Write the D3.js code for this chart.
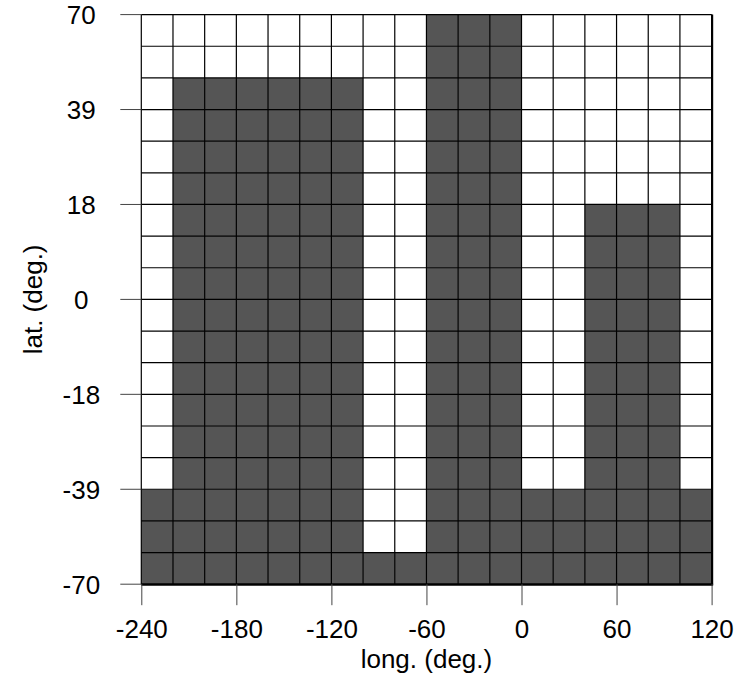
<!DOCTYPE html>
<html>
<head>
<meta charset="utf-8">
<script src="https://cdn.jsdelivr.net/npm/d3@7"></script>
<style>
  body { margin: 0; background: #fff; }
  text { font-family: "Liberation Sans", Arial, sans-serif; }
</style>
</head>
<body>
<div id="chart"></div>
<script>
// longitude bin starts (20 deg wide) and the latitude each filled column reaches
var lonStarts = [-240, -220, -200, -180, -160, -140, -120, -100, -80, -60, -40, -20, 0, 20, 40, 60, 80, 100];
var topLat = [-39, 47, 47, 47, 47, 47, 47, -57, -57, 70, 70, 70, -39, -39, 18, 18, 18, -39];
var xTicks = [-240, -180, -120, -60, 0, 60, 120];
var yTickLabels = [-70, -39, -18, 0, 18, 39, 70];
var nRows = 18;
var latMax = 70;

var width = 737, height = 681;
var plotLeft = 141.3, plotRight = 711.6, plotTop = 14.6, plotBottom = 584.2;
var fontSize = 26;
var rad = Math.PI / 180;

var svg = d3.select("#chart").append("svg")
    .attr("width", width)
    .attr("height", height);

var x = d3.scaleLinear().domain([-240, 120]).range([plotLeft, plotRight]);
// equal-area latitude axis: linear in sin(lat)
var sMax = Math.sin(latMax * rad);
var yS = d3.scaleLinear().domain([-sMax, sMax]).range([plotBottom, plotTop]);
var y = function(lat) { return yS(Math.sin(lat * rad)); };

// row edges, equal steps in sin(lat)
var rowEdges = d3.range(nRows + 1).map(function(i) {
    return Math.asin(-sMax + i * 2 * sMax / nRows) / rad;
});

var cells = [];
lonStarts.forEach(function(lon, c) {
    for (var r = 0; r < nRows; r++) {
        var lo = rowEdges[r], hi = rowEdges[r + 1];
        var mid = Math.asin((Math.sin(lo * rad) + Math.sin(hi * rad)) / 2) / rad;
        cells.push({lon: lon, lo: lo, hi: hi, filled: mid < topLat[c]});
    }
});

svg.append("g").selectAll("rect")
    .data(cells)
    .enter().append("rect")
    .attr("x", function(d) { return x(d.lon); })
    .attr("y", function(d) { return y(d.hi); })
    .attr("width", function(d) { return x(d.lon + 20) - x(d.lon); })
    .attr("height", function(d) { return y(d.lo) - y(d.hi); })
    .attr("fill", function(d) { return d.filled ? "#555555" : "#ffffff"; });

// grid lines
var grid = svg.append("g").attr("stroke", "#000").attr("stroke-width", 1.2);
lonStarts.concat([120]).forEach(function(lon) {
    grid.append("line")
        .attr("x1", x(lon)).attr("x2", x(lon))
        .attr("y1", plotTop).attr("y2", plotBottom);
});
rowEdges.forEach(function(lat) {
    grid.append("line")
        .attr("x1", plotLeft).attr("x2", plotRight)
        .attr("y1", y(lat)).attr("y2", y(lat));
});

// heavier right and bottom frame
svg.append("line")
    .attr("x1", plotRight + 0.5).attr("x2", plotRight + 0.5)
    .attr("y1", plotTop).attr("y2", plotBottom + 1)
    .attr("stroke", "#000").attr("stroke-width", 2.2);
svg.append("line")
    .attr("x1", plotLeft).attr("x2", plotRight + 1.5)
    .attr("y1", plotBottom + 0.5).attr("y2", plotBottom + 0.5)
    .attr("stroke", "#000").attr("stroke-width", 2.2);

// x axis
var xAxis = svg.append("g")
    .attr("transform", "translate(0," + plotBottom + ")")
    .call(d3.axisBottom(x).tickValues(xTicks).tickSize(21).tickFormat(function(d) { return String(d); }));
xAxis.select(".domain").remove();
xAxis.selectAll("line").attr("stroke", "#444");
xAxis.selectAll("text")
    .attr("y", 54).attr("dy", 0)
    .attr("font-size", fontSize).attr("fill", "#000")
    .style("font-family", "'Liberation Sans', Arial, sans-serif");

// y axis: ticks sit on every third row edge
var yTickPos = rowEdges.filter(function(d, i) { return i % 3 === 0; });
var yAxis = svg.append("g").attr("transform", "translate(" + plotLeft + ",0)");
yAxis.selectAll("line")
    .data(yTickPos)
    .enter().append("line")
    .attr("x1", -21).attr("x2", 0)
    .attr("y1", function(d) { return y(d); })
    .attr("y2", function(d) { return y(d); })
    .attr("stroke", "#444");
yAxis.selectAll("text")
    .data(yTickPos)
    .enter().append("text")
    .attr("x", -60)
    .attr("y", function(d) { return y(d); })
    .attr("dy", "0.36em")
    .attr("text-anchor", "middle")
    .attr("font-size", fontSize)
    .text(function(d, i) { return yTickLabels[i]; });

// axis titles
svg.append("text")
    .attr("x", (plotLeft + plotRight) / 2)
    .attr("y", 668)
    .attr("text-anchor", "middle")
    .attr("font-size", fontSize)
    .text("long. (deg.)");

svg.append("text")
    .attr("transform", "translate(42," + (plotTop + plotBottom) / 2 + ") rotate(-90)")
    .attr("text-anchor", "middle")
    .attr("font-size", fontSize)
    .text("lat. (deg.)");
</script>
</body>
</html>
